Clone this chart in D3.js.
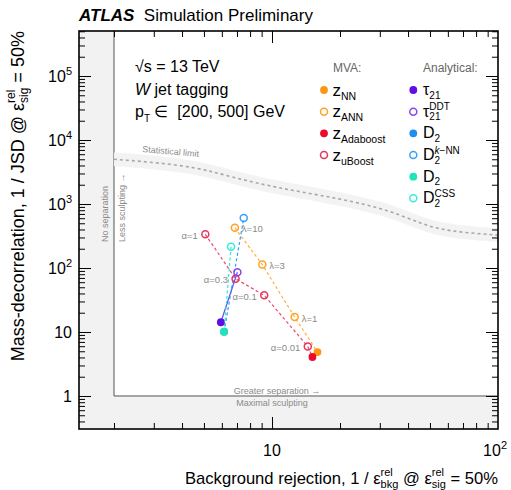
<!DOCTYPE html>
<html>
<head>
<meta charset="utf-8">
<script src="https://cdn.jsdelivr.net/npm/d3@7"></script>
<style>
  html, body { margin: 0; padding: 0; background: #fff; }
  svg { display: block; font-family: "Liberation Sans", Arial, Helvetica, sans-serif; }
  text { white-space: pre; }
</style>
</head>
<body>
<svg id="chart" width="511" height="490"></svg>
<script>
// ---------------- data ----------------
// Axis ranges (background rejection, 1/JSD)
const xDomain = [1.4, 100];
const yDomain = [0.305, 5.05e5];
const xMajorTicks = [10, 100];
const yMajorExponents = [0, 1, 2, 3, 4, 5];

// Statistical limit (central value and band)
const statLimitX = [2, 2.76, 4.59, 6.46, 10.7, 19.8, 33, 46.1, 60.7, 100];
const statLimitY = [4990, 4600, 3800, 2700, 1760, 1228, 806, 480, 372, 326];
const statLimitBand = 1.28; // multiplicative half-width

// ANN scan over lambda, ending at the plain NN
const annLabels = ["λ=10", "λ=3", "λ=1"];
const annX = [6.85, 9.06, 12.6];
const annY = [426, 113, 17.1];
const nnX = 15.9, nnY = 4.85;

// uBoost scan over alpha, ending at plain Adaboost
const uboostLabels = ["α=1", "α=0.3", "α=0.1", "α=0.01"];
const uboostX = [5.07, 6.90, 9.24, 14.4];
const uboostY = [336, 68, 37.4, 5.94];
const adaboostX = 15.1, adaboostY = 4.07;

// Analytical taggers and their decorrelated versions
const tau21X = 5.94, tau21Y = 14.2;
const tau21DDTX = 7.03, tau21DDTY = 86;
const d2X = 6.14, d2Y = 10.1;
const d2kNNX = 7.50, d2kNNY = 604;
const d2CSSX = 6.59, d2CSSY = 215;

// ---------------- styles ----------------
const C = {
  nn: "#ff9612", ann: "#ffa21f", annLine: "#ffb040",
  ada: "#ee0a2a", ub: "#e8355a", ubLine: "#f04a6e",
  tau: "#5a10e6", tauDDT: "#8844ee", tauLine: "#5a50ee",
  d2: "#1e8ef0", d2kNN: "#3aa0ff", d2kNNLine: "#3399ff",
  d2b: "#1ee6b6", d2CSS: "#38ecdc", d2CSSLine: "#38e2d8",
  shade: "#f2f2f2", statBand: "#f3f3f3", statLine: "#a8a8a8",
  note: "#8a8a8a"
};

const svg = d3.select("#chart");
const x = d3.scaleLog().domain(xDomain).range([79, 498]);
const y = d3.scaleLog().domain(yDomain).range([429, 31]);
const [X0, X1] = x.range();
const [Y0, Y1] = y.range(); // Y0 bottom, Y1 top

// rich text: segments laid out left to right; a sub/superscript pair is
// stacked inside one text element
function rich(parent, px, py, segs, anchor = "start", rotate = 0) {
  const outer = parent.append("g").attr("transform", `translate(${px},${py}) rotate(${rotate})`);
  const g = outer.append("g");
  let cx = 0;
  segs.forEach(s => {
    if (s.sub !== undefined || s.sup !== undefined) {
      let w = 0;
      const t = g.append("text").attr("fill", s.fill || "#000");
      if (s.sub !== undefined) {
        const ts = t.append("tspan").attr("font-size", s.size || 11)
          .attr("x", cx).attr("y", s.subDy ?? 4.5).text(s.sub);
        w = Math.max(w, ts.node().getComputedTextLength());
      }
      if (s.sup !== undefined) {
        const parts = Array.isArray(s.sup) ? s.sup : [{ t: s.sup }];
        let sw = 0;
        parts.forEach((p, j) => {
          const ts = t.append("tspan").attr("font-size", s.supSize || s.size || 11)
            .attr("font-style", p.italic ? "italic" : null).text(p.t);
          if (j === 0) ts.attr("x", cx).attr("y", s.supDy ?? -7);
          sw += ts.node().getComputedTextLength();
        });
        w = Math.max(w, sw);
      }
      cx += w;
    } else {
      const t = g.append("text").attr("x", cx).attr("y", s.dy || 0)
        .attr("font-size", s.size || 16).attr("fill", s.fill || "#000")
        .attr("font-style", s.italic ? "italic" : null)
        .attr("font-weight", s.bold ? "bold" : null).text(s.t);
      cx += t.node().getComputedTextLength();
    }
  });
  const shift = anchor === "end" ? -cx : anchor === "middle" ? -cx / 2 : 0;
  g.attr("transform", `translate(${shift},0)`);
  return outer;
}

// ---------- shaded regions: no separation (x<2) and maximal sculpting (y<1)
svg.append("rect").attr("x", X0).attr("y", Y1).attr("width", x(2) - X0).attr("height", Y0 - Y1)
  .attr("fill", C.shade);
svg.append("rect").attr("x", x(2)).attr("y", y(1)).attr("width", X1 - x(2)).attr("height", Y0 - y(1))
  .attr("fill", C.shade);
svg.append("path")
  .attr("d", `M${x(2)},${Y1}V${y(1)}H${X1}`)
  .attr("fill", "none").attr("stroke", "#555").attr("stroke-width", 1);

// ---------- statistical limit
const statPts = statLimitX.map((v, i) => ({ x: v, y: statLimitY[i] }));
svg.append("path").datum(statPts)
  .attr("fill", C.statBand)
  .attr("d", d3.area().curve(d3.curveBasis)
    .x(d => x(d.x)).y0(d => y(d.y / statLimitBand)).y1(d => y(d.y * statLimitBand)));
svg.append("path").datum(statPts)
  .attr("fill", "none").attr("stroke", C.statLine).attr("stroke-width", 1.6)
  .attr("stroke-dasharray", "3,3")
  .attr("d", d3.line().curve(d3.curveBasis).x(d => x(d.x)).y(d => y(d.y)));
svg.append("text").attr("font-size", 9).attr("fill", C.note)
  .attr("transform", `translate(142,152) rotate(5)`).text("Statistical limit");

// region annotations
svg.append("text").attr("font-size", 9).attr("fill", C.note)
  .attr("transform", `translate(108,242) rotate(-90)`).text("No separation");
svg.append("text").attr("font-size", 9).attr("fill", C.note)
  .attr("transform", `translate(125,242) rotate(-90)`).text("Less sculpting →");
svg.append("text").attr("font-size", 9).attr("fill", C.note).attr("text-anchor", "middle")
  .attr("x", 277).attr("y", 394).text("Greater separation →");
svg.append("text").attr("font-size", 9).attr("fill", C.note).attr("text-anchor", "middle")
  .attr("x", 272).attr("y", 406).text("Maximal sculpting");

// ---------- axes (ticks inward on all four sides)
const xMinor = [];
[1, 10].forEach(d => { for (let k = 2; k <= 9; k++) xMinor.push(k * d); });
const yMinor = [];
for (let e = -1; e <= 5; e++) for (let k = 2; k <= 9; k++) {
  const v = k * Math.pow(10, e);
  if (v > yDomain[0] && v < yDomain[1]) yMinor.push(v);
}
const yMajor = yMajorExponents.map(e => Math.pow(10, e));

function ticks(axisFn, scale, vals, size, transform) {
  const a = svg.append("g").attr("transform", transform)
    .call(axisFn(scale).tickValues(vals).tickSize(size).tickSizeOuter(0).tickFormat(""));
  a.select(".domain").remove();
  a.selectAll("line").attr("stroke", "#000").attr("stroke-width", 1);
}
ticks(d3.axisBottom, x, xMinor, -6, `translate(0,${Y0})`);
ticks(d3.axisBottom, x, xMajorTicks.filter(v => v < 100), -12, `translate(0,${Y0})`);
ticks(d3.axisTop, x, xMinor, -6, `translate(0,${Y1})`);
ticks(d3.axisTop, x, xMajorTicks.filter(v => v < 100), -12, `translate(0,${Y1})`);
ticks(d3.axisLeft, y, yMinor, -6, `translate(${X0},0)`);
ticks(d3.axisLeft, y, yMajor, -12, `translate(${X0},0)`);
ticks(d3.axisRight, y, yMinor, -6, `translate(${X1},0)`);
ticks(d3.axisRight, y, yMajor, -12, `translate(${X1},0)`);

svg.append("rect").attr("x", X0).attr("y", Y1).attr("width", X1 - X0).attr("height", Y0 - Y1)
  .attr("fill", "none").attr("stroke", "#000").attr("stroke-width", 1.6);

// tick labels
yMajorExponents.forEach(e => {
  const segs = e === 0 ? [{ t: "1" }] : e === 1 ? [{ t: "10" }] :
    [{ t: "10" }, { sup: String(e), size: 11, supDy: -7 }];
  rich(svg, 72, y(Math.pow(10, e)) + 6, segs, "end");
});
xMajorTicks.forEach(v => {
  const e = Math.round(Math.log10(v));
  if (e === 1) rich(svg, x(v), 456, [{ t: "10" }], "middle");
  else rich(svg, 507, 456, [{ t: "10" }, { sup: String(e), size: 11, supDy: -7 }], "end");
});

// axis titles
rich(svg, X1, 484, [
  { t: "Background rejection, 1 / ε", size: 16.6 },
  { sub: "bkg", sup: "rel", size: 11, subDy: 4, supDy: -8.5 },
  { t: " @ ε", size: 16.6 },
  { sub: "sig", sup: "rel", size: 11, subDy: 4, supDy: -8.5 },
  { t: " = 50%", size: 16.6 }
], "end");
rich(svg, 24, Y1, [
  { t: "Mass-decorrelation, 1 / JSD @ ε", size: 18 },
  { sub: "sig", sup: "rel", size: 12, subDy: 4, supDy: -9.5 },
  { t: " = 50%", size: 18 }
], "end", -90);

// title
rich(svg, 79, 21, [
  { t: "ATLAS", bold: true, italic: true, size: 17 },
  { t: "  Simulation Preliminary", size: 17 }
]);

// ---------- curves and markers
const line = d3.line().x(d => x(d[0])).y(d => y(d[1]));
function curve(pts, color, dash) {
  svg.append("path").datum(pts).attr("d", line).attr("fill", "none")
    .attr("stroke", color).attr("stroke-width", 1.2)
    .attr("stroke-dasharray", dash);
}
curve(annX.map((v, i) => [v, annY[i]]).concat([[nnX, nnY]]), C.annLine, "3,2.5");
curve(uboostX.map((v, i) => [v, uboostY[i]]).concat([[adaboostX, adaboostY]]), C.ubLine, "3,2.5");
curve([[tau21X, tau21Y], [tau21DDTX, tau21DDTY]], C.tauLine, null);
curve([[d2X, d2Y], [d2kNNX, d2kNNY]], C.d2kNNLine, "3,2.5");
curve([[d2X, d2Y], [d2CSSX, d2CSSY]], C.d2CSSLine, "3,2.5");

function marker(parent, cx, cy, color, filled) {
  parent.append("circle").attr("cx", cx).attr("cy", cy)
    .attr("r", filled ? 3.9 : 3.5)
    .attr("fill", filled ? color : "none")
    .attr("stroke", filled ? "none" : color).attr("stroke-width", 1.5);
}
annX.forEach((v, i) => marker(svg, x(v), y(annY[i]), C.ann, false));
uboostX.forEach((v, i) => marker(svg, x(v), y(uboostY[i]), C.ub, false));
marker(svg, x(nnX), y(nnY), C.nn, true);
marker(svg, x(adaboostX), y(adaboostY), C.ada, true);
marker(svg, x(tau21X), y(tau21Y), C.tau, true);
marker(svg, x(tau21DDTX), y(tau21DDTY), C.tauDDT, false);
marker(svg, x(d2X), y(d2Y), C.d2, true);
marker(svg, x(d2kNNX), y(d2kNNY), C.d2kNN, false);
marker(svg, x(d2X), y(d2Y), C.d2b, true);
marker(svg, x(d2CSSX), y(d2CSSY), C.d2CSS, false);

// scan-point labels
annLabels.forEach((t, i) => svg.append("text").attr("font-size", 9.5).attr("fill", C.note)
  .attr("x", x(annX[i]) + 7).attr("y", y(annY[i]) + 4.5).text(t));
uboostLabels.forEach((t, i) => svg.append("text").attr("font-size", 9.5).attr("fill", C.note)
  .attr("text-anchor", "end")
  .attr("x", x(uboostX[i]) - 7.5).attr("y", y(uboostY[i]) + 4.5).text(t));

// ---------- legend
rich(svg, 135, 72, [{ t: "√s = 13 TeV" }]);
rich(svg, 135, 95, [{ t: "W", italic: true }, { t: " jet tagging" }]);
rich(svg, 135, 117, [{ t: "p" }, { sub: "T", size: 10, subDy: 5 }, { t: " ∈  [200, 500] GeV" }]);

svg.append("text").attr("x", 333).attr("y", 72).attr("font-size", 12).attr("fill", "#666").text("MVA:");
svg.append("text").attr("x", 423).attr("y", 72).attr("font-size", 12).attr("fill", "#666").text("Analytical:");

const rowY = [90, 111.7, 133.3, 155, 176.7, 198.3];
const mvaLegend = [
  { sub: "NN", color: C.nn, filled: true },
  { sub: "ANN", color: C.ann, filled: false },
  { sub: "Adaboost", color: C.ada, filled: true },
  { sub: "uBoost", color: C.ub, filled: false }
];
mvaLegend.forEach((d, i) => {
  marker(svg, 324, rowY[i], d.color, d.filled);
  rich(svg, 332.5, rowY[i] + 5.5, [{ t: "z", size: 17 }, { sub: d.sub, size: 10.5, subDy: 4 }]);
});
const anaLegend = [
  { base: "τ", sub: "21", color: C.tau, filled: true },
  { base: "τ", sub: "21", sup: [{ t: "DDT" }], color: C.tauDDT, filled: false },
  { base: "D", sub: "2", color: C.d2, filled: true },
  { base: "D", sub: "2", sup: [{ t: "k", italic: true }, { t: "−NN" }], color: C.d2kNN, filled: false },
  { base: "D", sub: "2", color: C.d2b, filled: true },
  { base: "D", sub: "2", sup: [{ t: "CSS" }], color: C.d2CSS, filled: false }
];
anaLegend.forEach((d, i) => {
  marker(svg, 413.3, rowY[i], d.color, d.filled);
  rich(svg, 423, rowY[i] + 5, [
    { t: d.base, size: 16 },
    { sub: d.sub, sup: d.sup, size: 10, supSize: 10, subDy: 3.5, supDy: -6.5 }
  ]);
});
</script>
</body>
</html>
